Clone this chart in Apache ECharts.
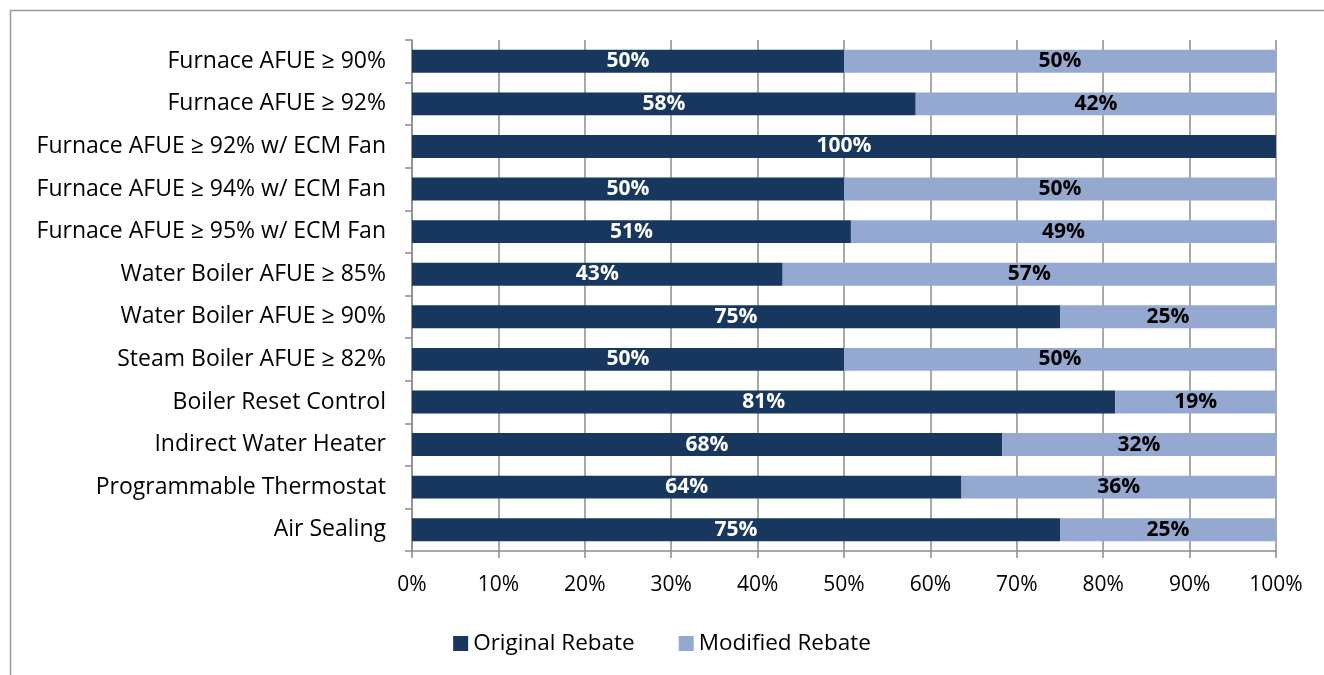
<!DOCTYPE html>
<html>
<head>
<meta charset="utf-8">
<script src="https://cdn.jsdelivr.net/npm/echarts@6/dist/echarts.min.js"></script>
<style>html,body{margin:0;padding:0;background:#fff}#c{width:1324px;height:675px}</style>
</head>
<body>
<div id="c"></div>
<script>
const categories = [
  "Furnace AFUE \u2265 90%",
  "Furnace AFUE \u2265 92%",
  "Furnace AFUE \u2265 92% w/ ECM Fan",
  "Furnace AFUE \u2265 94% w/ ECM Fan",
  "Furnace AFUE \u2265 95% w/ ECM Fan",
  "Water Boiler AFUE \u2265 85%",
  "Water Boiler AFUE \u2265 90%",
  "Steam Boiler AFUE \u2265 82%",
  "Boiler Reset Control",
  "Indirect Water Heater",
  "Programmable Thermostat",
  "Air Sealing"
];
const originalRebate = [50, 58.3, 100, 50, 50.8, 42.9, 75, 50, 81.4, 68.3, 63.6, 75];
const modifiedRebate = [50, 41.7, 0, 50, 49.2, 57.1, 25, 50, 18.6, 31.7, 36.4, 25];
const seriesNames = ["Original Rebate", "Modified Rebate"];
const xTicks = {min: 0, max: 100, interval: 10};

const FONT = "'Open Sans', 'Noto Sans', sans-serif";
const chart = echarts.init(document.getElementById('c'), null, {renderer: 'canvas'});
const lbl = (color) => ({
  show: true, position: 'inside', color: color, fontFamily: FONT, fontWeight: 'bold', fontSize: 21,
  formatter: p => p.value > 0 ? Math.round(p.value) + '%' : ''
});
chart.setOption({
  animation: false,
  backgroundColor: '#fff',
  textStyle: {fontFamily: FONT},
  graphic: [{
    type: 'rect', shape: {x: 10.5, y: 10.5, width: 1340, height: 700},
    style: {fill: 'none', stroke: '#9a9a9a', lineWidth: 1.5}, silent: true
  }],
  grid: {left: 412, right: 48, top: 40, height: 511, containLabel: false},
  xAxis: {
    type: 'value', min: xTicks.min, max: xTicks.max, interval: xTicks.interval,
    axisLabel: {formatter: '{value}%', color: '#000', fontSize: 21, fontFamily: FONT, margin: 24},
    axisLine: {show: true, lineStyle: {color: '#8c8c8c', width: 1.5}},
    axisTick: {show: true, length: 7, lineStyle: {color: '#8c8c8c', width: 1.5}},
    splitLine: {show: true, lineStyle: {color: '#8c8c8c', width: 1.5}}
  },
  yAxis: {
    type: 'category', data: categories, inverse: true,
    axisLabel: {color: '#000', fontSize: 23, fontFamily: FONT, margin: 26},
    axisLine: {show: true, lineStyle: {color: '#8c8c8c', width: 1.5}},
    axisTick: {show: true, length: 7, lineStyle: {color: '#8c8c8c', width: 1.5}}
  },
  legend: {
    top: 627, left: 'center', icon: 'rect', itemWidth: 15, itemHeight: 15, itemGap: 44,
    textStyle: {fontSize: 22.5, color: '#000', fontFamily: FONT},
    data: seriesNames
  },
  series: [
    {name: seriesNames[0], type: 'bar', stack: 's', barWidth: '54%', data: originalRebate,
     itemStyle: {color: '#17375E'}, label: lbl('#fff')},
    {name: seriesNames[1], type: 'bar', stack: 's', barWidth: '54%', data: modifiedRebate,
     itemStyle: {color: '#95A9D0'}, label: lbl('#000')}
  ]
});
</script>
</body>
</html>
